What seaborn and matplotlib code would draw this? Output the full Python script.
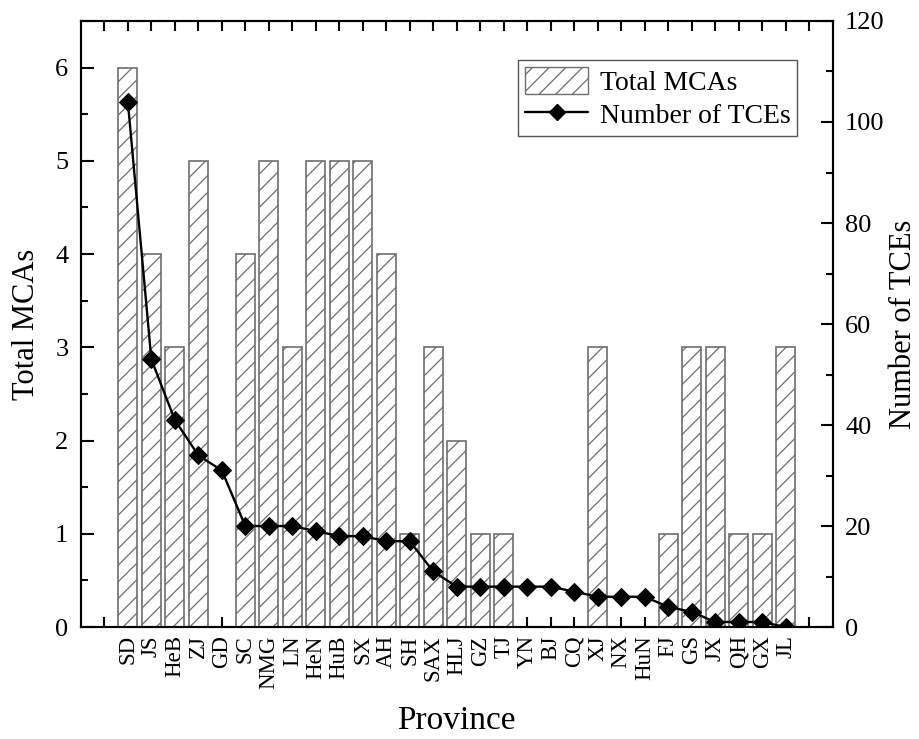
import matplotlib
matplotlib.use("Agg")
import matplotlib.pyplot as plt
import numpy as np
import pandas as pd
import seaborn as sns
from matplotlib.lines import Line2D
from matplotlib.patches import Patch
from matplotlib.ticker import MultipleLocator

# Data
provinces = ["SD", "JS", "HeB", "ZJ", "GD", "SC", "NMG", "LN", "HeN", "HuB",
             "SX", "AH", "SH", "SAX", "HLJ", "GZ", "TJ", "YN", "BJ", "CQ",
             "XJ", "NX", "HuN", "FJ", "GS", "JX", "QH", "GX", "JL"]
total_mcas = [6, 4, 3, 5, 0, 4, 5, 3, 5, 5,
              5, 4, 1, 3, 2, 1, 1, 0, 0, 0,
              3, 0, 0, 1, 3, 3, 1, 1, 3]
num_tces = [104, 53, 41, 34, 31, 20, 20, 20, 19, 18,
            18, 17, 17, 11, 8, 8, 8, 8, 8, 7,
            6, 6, 6, 4, 3, 1, 1, 1, 0]

df = pd.DataFrame({"Province": provinces, "MCAs": total_mcas, "TCEs": num_tces})
df["pos"] = np.arange(len(df))

sns.set_theme(style="ticks")
plt.rcParams["font.family"] = ["Liberation Serif", "DejaVu Serif"]
plt.rcParams["text.color"] = "black"
plt.rcParams["axes.labelcolor"] = "black"
plt.rcParams["xtick.color"] = "black"
plt.rcParams["ytick.color"] = "black"
plt.rcParams["hatch.color"] = "#6e6e6e"
plt.rcParams["hatch.linewidth"] = 0.9

fig, ax = plt.subplots(figsize=(9.19, 7.39), dpi=100)
fig.subplots_adjust(left=0.088, right=0.906, top=0.9716, bottom=0.1515)

sns.barplot(data=df, x="pos", y="MCAs", color="white", edgecolor="#6e6e6e",
            linewidth=1.2, hatch="//", width=0.82, native_scale=True, ax=ax)

ax2 = ax.twinx()
sns.lineplot(data=df, x="pos", y="TCEs", color="black", linewidth=1.7,
             marker="D", markersize=9, markeredgecolor="black", ax=ax2)

ax.set_xlim(-2, 30)
ax.set_ylim(0, 6.5)
ax2.set_ylim(0, 120)

ax.set_xticks(np.arange(-1, 30))
ax.set_xticklabels([""] + provinces + [""], rotation=90, fontsize=16.5)
ax.yaxis.set_major_locator(MultipleLocator(1))
ax.yaxis.set_minor_locator(MultipleLocator(0.5))
ax2.yaxis.set_major_locator(MultipleLocator(20))
ax2.yaxis.set_minor_locator(MultipleLocator(10))

for a in (ax, ax2):
    for s in a.spines.values():
        s.set_visible(True)
        s.set_linewidth(1.5)
        s.set_color("black")

ax.tick_params(axis="x", which="major", direction="in", length=7.5, width=1.5,
               top=True, pad=6)
ax.tick_params(axis="y", which="major", direction="in", length=9, width=1.5,
               labelsize=19, pad=9)
ax.tick_params(axis="y", which="minor", direction="in", length=5, width=1.5)
ax2.tick_params(axis="y", which="major", direction="in", length=9, width=1.5,
                labelsize=19, pad=9)
ax2.tick_params(axis="y", which="minor", direction="in", length=5, width=1.5)

ax.set_xlabel("Province", fontsize=24, labelpad=12)
ax.set_ylabel("Total MCAs", fontsize=22, labelpad=10)
ax2.set_ylabel("Number of TCEs", fontsize=22, labelpad=3)

handles = [
    Patch(facecolor="white", edgecolor="#6e6e6e", hatch="//", label="Total MCAs"),
    Line2D([], [], color="black", linewidth=1.7, marker="D", markersize=8,
           label="Number of TCEs"),
]
leg = ax2.legend(handles=handles, loc="upper right", bbox_to_anchor=(0.953, 0.935),
                 fontsize=20, frameon=True, fancybox=False, framealpha=1,
                 edgecolor="#555555", handlelength=2.3, handleheight=1.1,
                 handletextpad=0.4, borderpad=0.25, labelspacing=0.15,
                 borderaxespad=0)
leg.get_frame().set_linewidth(1.0)

fig.savefig("out.png", dpi=100)
